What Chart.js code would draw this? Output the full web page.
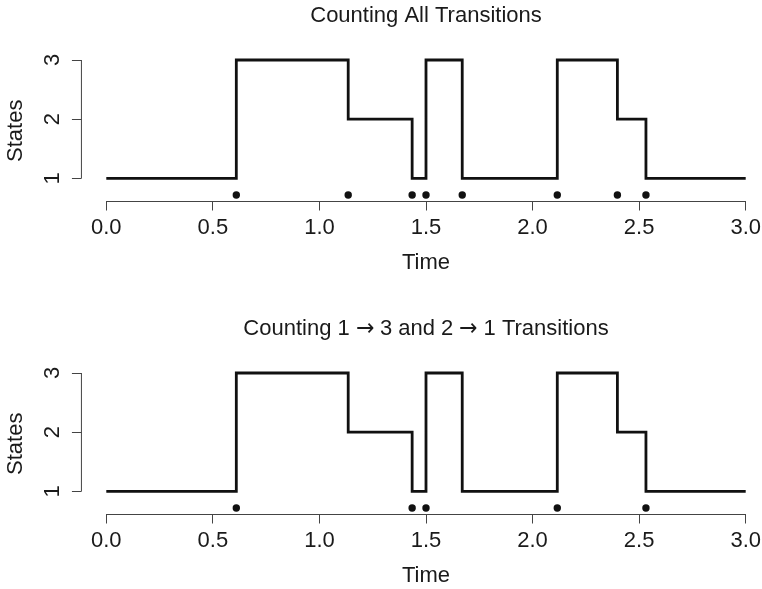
<!DOCTYPE html>
<html>
<head>
<meta charset="utf-8">
<script src="https://cdn.jsdelivr.net/npm/chart.js@4/dist/chart.umd.min.js"></script>
<style>
  @font-face {
    font-family: 'ArrowFix';
    src: local('DejaVu Sans'), local('DejaVuSans');
    unicode-range: U+2192;
  }
  html, body { margin: 0; padding: 0; background: #fff; overflow: hidden; width: 762px; height: 589px; }
  .panel { position: absolute; left: 0; }
</style>
</head>
<body>
<canvas id="c1" class="panel" width="762" height="313" style="top:0px"></canvas>
<canvas id="c2" class="panel" width="762" height="313" style="top:313px"></canvas>
<script>
// ---- data ----
const jumpTimes   = [0, 0.61, 1.135, 1.435, 1.50, 1.67, 2.116, 2.398, 2.532];
const stateValues = [1, 3, 2, 1, 3, 1, 3, 2, 1];
const endTime = 3.0;
const countedAll = [0.61, 1.135, 1.435, 1.50, 1.67, 2.116, 2.398, 2.532];
const counted13and21 = [0.61, 1.435, 1.50, 2.116, 2.532];
const markLevel = 0.72;
const xTickValues = [0, 0.5, 1.0, 1.5, 2.0, 2.5, 3.0];
const yTickValues = [1, 2, 3];
const titles = ["Counting All Transitions", "Counting 1 \u2192 3 and 2 \u2192 1 Transitions"];
const xTitle = "Time";
const yTitle = "States";

const FONT = "'Liberation Sans', Arial, Helvetica, sans-serif";
const TITLE_FONT = "'ArrowFix', 'Liberation Sans', Arial, Helvetica, sans-serif";
const TXT = '#1a1a1a';
const AX = '#444';

const yAxisPlugin = {
  id: 'rYAxis',
  afterDraw(chart) {
    const ctx = chart.ctx;
    const ys = chart.scales.y;
    const xs = chart.scales.x;
    const axX = xs.getPixelForValue(-0.119);
    ctx.save();
    ctx.strokeStyle = AX;
    ctx.lineWidth = 1;
    ctx.beginPath();
    const yTop = ys.getPixelForValue(yTickValues[yTickValues.length - 1]);
    const yBot = ys.getPixelForValue(yTickValues[0]);
    ctx.moveTo(axX + 0.5, yTop);
    ctx.lineTo(axX + 0.5, yBot);
    yTickValues.forEach(v => {
      const py = Math.round(ys.getPixelForValue(v)) + 0.5;
      ctx.moveTo(axX + 0.5, py);
      ctx.lineTo(axX - 9, py);
    });
    ctx.stroke();
    ctx.fillStyle = TXT;
    ctx.font = '22px ' + FONT;
    ctx.textAlign = 'center';
    ctx.textBaseline = 'middle';
    yTickValues.forEach(v => {
      const py = ys.getPixelForValue(v);
      ctx.save();
      ctx.translate(axX - 27.5, py);
      ctx.rotate(-Math.PI / 2);
      ctx.fillText(String(v), 0, 0);
      ctx.restore();
    });
    ctx.save();
    ctx.translate(16, (chart.chartArea.top + chart.chartArea.bottom) / 2);
    ctx.rotate(-Math.PI / 2);
    ctx.fillText(yTitle, 0, 0);
    ctx.restore();
    ctx.restore();
  }
};

function makeChart(id, title, counted) {
  const stepData = jumpTimes.map((t, i) => ({x: t, y: stateValues[i]}));
  stepData.push({x: endTime, y: stateValues[stateValues.length - 1]});
  const dots = counted.map(t => ({x: t, y: markLevel}));
  return new Chart(document.getElementById(id), {
    type: 'line',
    data: {
      datasets: [
        {
          type: 'line',
          data: stepData,
          stepped: true,
          borderColor: '#111',
          borderWidth: 2.8,
          pointRadius: 0,
          fill: false,
          clip: false,
          borderCapStyle: 'butt',
          borderJoinStyle: 'miter'
        },
        {
          type: 'scatter',
          data: dots,
          pointRadius: 3.7,
          pointBackgroundColor: '#111',
          pointBorderWidth: 0,
          showLine: false,
          clip: false
        }
      ]
    },
    options: {
      responsive: false,
      animation: false,
      devicePixelRatio: 1,
      layout: { padding: { left: 106.3, right: 16.3, top: 0, bottom: 36.7 } },
      plugins: {
        legend: { display: false },
        tooltip: { enabled: false },
        title: {
          display: true,
          text: title,
          fullSize: false,
          color: TXT,
          font: { family: TITLE_FONT, size: 22, weight: 'normal', lineHeight: 1.2 },
          padding: { top: 2.8, bottom: 30.8 }
        }
      },
      scales: {
        x: {
          type: 'linear',
          min: 0,
          max: 3,
          afterBuildTicks: s => { s.ticks = xTickValues.map(v => ({value: v})); },
          afterFit: s => { s.paddingLeft = 0; s.paddingRight = 0; },
          border: { display: true, color: AX, width: 1 },
          grid: { display: true, drawOnChartArea: false, drawTicks: true, tickLength: 9, color: AX, lineWidth: 1 },
          ticks: {
            padding: 4,
            color: TXT,
            maxRotation: 0,
            autoSkip: false,
            font: { family: FONT, size: 22, lineHeight: 1.2 },
            callback: v => Number(v).toFixed(1)
          },
          title: {
            display: true,
            text: xTitle,
            color: TXT,
            font: { family: FONT, size: 22, lineHeight: 1.2 },
            padding: { top: 5, bottom: 0 }
          }
        },
        y: {
          type: 'linear',
          display: false,
          min: 0.61,
          max: 3
        }
      }
    },
    plugins: [yAxisPlugin]
  });
}

function build() {
  makeChart('c1', titles[0], countedAll);
  makeChart('c2', titles[1], counted13and21);
}
if (document.fonts && document.fonts.load) {
  Promise.all([
    document.fonts.load("22px 'ArrowFix'", "\u2192"),
    document.fonts.load("22px 'Liberation Sans'", "Ab")
  ]).then(build, build);
} else {
  build();
}
</script>
</body>
</html>
